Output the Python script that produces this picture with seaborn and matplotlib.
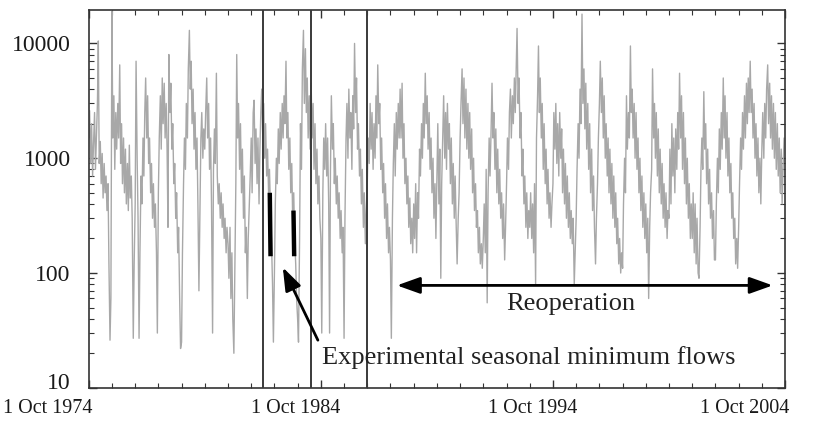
import numpy as np
import pandas as pd
import matplotlib
matplotlib.use("Agg")
import matplotlib.pyplot as plt
import matplotlib.transforms as mtransforms
from matplotlib.ticker import FixedLocator, NullFormatter, LogLocator
import seaborn as sns

# Semi-monthly river flow, grouped by water year (Oct-Sep), three decades
flows_1975_1984 = [
    1500, 2600, 900, 2000, 700, 1300, 2500, 800, 1600, 3000, 10500, 900, 1400, 600, 1100, 450, 900, 500, 700, 350, 600, 120, 26, 60,
    19000, 1500, 3500, 800, 2500, 1200, 3000, 1500, 6500, 900, 2000, 600, 1500, 500, 1200, 400, 900, 350, 1300, 450, 700, 300, 27, 120,
    400, 7000, 1000, 300, 27, 150, 700, 400, 1500, 700, 2500, 5000, 1500, 3500, 900, 1500, 500, 900, 300, 600, 250, 400, 150, 30,
    500, 1500, 3500, 1200, 5000, 2000, 4500, 1500, 3000, 1200, 250, 8000, 2500, 4500, 1200, 2000, 600, 900, 300, 500, 150, 250, 60, 22,
    25, 150, 600, 1500, 800, 3000, 1500, 6000, 13000, 4000, 7000, 2000, 4000, 1200, 2500, 800, 1500, 400, 70, 300, 1500, 2500, 1000, 1800,
    1200, 2500, 5000, 1500, 3000, 800, 1500, 400, 30, 800, 1800, 900, 5500, 700, 400, 600, 300, 500, 250, 400, 200, 300, 150, 250,
    180, 90, 250, 60, 150, 40, 20, 100, 600, 8000, 1500, 3000, 800, 2000, 500, 1200, 300, 700, 150, 250, 60, 200, 400, 700,
    1500, 500, 2500, 3200, 900, 1800, 600, 1500, 400, 1200, 2500, 4000, 1500, 3000, 1000, 2000, 700, 1200, 500, 800, 350, 200, 80, 25,
    100, 400, 1000, 600, 1800, 900, 2500, 1200, 3000, 1500, 3500, 2000, 7000, 1500, 2500, 800, 1500, 500, 900, 300, 500, 200, 120, 60,
    40, 25, 200, 2000, 800, 6000, 13000, 3000, 9000, 2500, 5000, 1500, 3500, 1200, 4500, 1500, 3000, 800, 2000, 600, 1200, 400, 700, 300,
]
flows_1985_1994 = [
    200, 30, 500, 1500, 800, 2000, 700, 1500, 400, 30, 800, 3500, 1200, 2000, 600, 1000, 400, 700, 300, 500, 200, 350, 150, 250,
    27, 300, 1500, 3000, 1000, 4000, 1500, 2500, 800, 3500, 1800, 10000, 2500, 5000, 1200, 2000, 700, 1200, 400, 800, 250, 500, 180, 350,
    600, 1500, 900, 3000, 1200, 2500, 800, 2000, 1000, 3500, 1500, 6500, 2000, 3000, 800, 1500, 500, 900, 300, 600, 200, 400, 150, 250,
    130, 27, 300, 900, 2000, 700, 2500, 1200, 3000, 1500, 4000, 1500, 4500, 1000, 2000, 600, 1000, 400, 700, 250, 450, 180, 300, 150,
    400, 200, 600, 150, 500, 300, 1200, 700, 2000, 1000, 3000, 1500, 5500, 2000, 3500, 1200, 2500, 800, 1500, 500, 1000, 300, 600, 200,
    700, 2000, 400, 1200, 90, 600, 1500, 3500, 1000, 2500, 800, 3000, 1200, 2000, 600, 1500, 400, 900, 300, 700, 250, 120, 300, 500,
    1500, 3000, 6000, 2000, 5000, 1500, 4000, 1200, 3000, 1000, 2500, 800, 1800, 500, 1000, 350, 600, 250, 350, 150, 250, 120, 180, 110,
    200, 400, 150, 800, 55, 500, 1500, 700, 1800, 4500, 1500, 2500, 800, 1800, 500, 1200, 400, 800, 300, 500, 200, 400, 130, 250,
    600, 1500, 800, 2500, 4000, 1500, 3500, 2000, 5000, 2500, 6000, 13500, 3000, 5000, 1500, 2500, 700, 1200, 400, 700, 250, 500, 200, 350,
    250, 500, 200, 400, 150, 600, 80, 1500, 3500, 9500, 2500, 5000, 1500, 3000, 800, 2000, 600, 1200, 400, 800, 300, 500, 250, 400,
]
flows_1995_2004 = [
    600, 2500, 1200, 3000, 900, 2000, 700, 2500, 1000, 1800, 500, 1200, 400, 900, 300, 700, 250, 500, 200, 350, 180, 300, 80, 150,
    300, 800, 2000, 1000, 4000, 2000, 18000, 3000, 6000, 1800, 4500, 1200, 3000, 800, 2000, 500, 1200, 350, 700, 250, 120, 300, 600, 1500,
    3000, 7000, 2500, 5000, 1500, 3500, 1000, 2000, 700, 1500, 500, 1200, 400, 900, 300, 700, 250, 500, 180, 300, 120, 200, 100, 150,
    110, 400, 1000, 500, 3500, 1200, 2500, 1500, 9500, 2500, 4000, 1500, 3000, 1000, 2500, 800, 1500, 500, 1000, 350, 700, 250, 500, 200,
    400, 150, 300, 60, 250, 500, 800, 6000, 1500, 3000, 1000, 2500, 700, 1800, 500, 1200, 400, 900, 300, 600, 250, 500, 200, 350,
    300, 1200, 400, 2000, 700, 1500, 500, 1800, 800, 2500, 1200, 5500, 1500, 3500, 800, 2500, 600, 1500, 400, 1000, 300, 600, 200, 400,
    200, 500, 150, 400, 120, 300, 100, 90, 250, 800, 1500, 800, 3800, 1200, 2000, 600, 1200, 400, 800, 300, 500, 200, 350, 130,
    130, 400, 1000, 500, 1800, 800, 2500, 1200, 5000, 1500, 3500, 1000, 2500, 700, 1500, 500, 900, 300, 500, 200, 300, 120, 200, 110,
    250, 600, 1500, 800, 2500, 1200, 3500, 1500, 4500, 2000, 5000, 2500, 7000, 2500, 4000, 1500, 3000, 1000, 2000, 700, 1500, 500, 1000, 400,
    1200, 2500, 1000, 3000, 1500, 4000, 6500, 2000, 4500, 1500, 3500, 1200, 3000, 1000, 2500, 800, 2000, 700, 1500, 500, 1200, 400, 900, 1500,
]

# Experimental seasonal minimum flow releases (two summers)
exp_season = ["1982", "1982", "1983", "1983"]
exp_dates = ["1982-07-20", "1982-08-01", "1983-07-28", "1983-08-08"]
exp_flows = [500, 140, 350, 140]

# Operational change dates marked by vertical lines
event_dates = ["1982-04-01", "1984-05-01", "1986-09-20"]

# Axis ticks
tick_dates = ["1974-10-01", "1984-10-01", "1994-10-01", "2004-10-01"]
tick_labels = ["1 Oct 1974", "1 Oct 1984", "1 Oct 1994", "1 Oct 2004"]
y_ticks = [10, 100, 1000, 10000]
y_tick_labels = ["10", "100", "1000", "10000"]

flows = flows_1975_1984 + flows_1985_1994 + flows_1995_2004
dates = pd.date_range("1974-10-01", periods=len(flows), freq="SMS")
df = pd.DataFrame({"date": dates, "flow": flows})
df_exp = pd.DataFrame({"date": pd.to_datetime(exp_dates), "flow": exp_flows, "season": exp_season})

sns.set_style("ticks")
plt.rcParams["font.family"] = ["Liberation Serif", "DejaVu Serif"]

fig = plt.figure(figsize=(8.37, 4.22), dpi=100)
ax = fig.add_axes([0.106, 0.081, 0.832, 0.895])

sns.lineplot(data=df, x="date", y="flow", ax=ax, color="#a8a8a8", lw=1.0,
             estimator=None, legend=False)
sns.lineplot(data=df_exp, x="date", y="flow", units="season", ax=ax,
             color="black", lw=3.2, estimator=None, legend=False,
             solid_capstyle="butt")

for d in event_dates:
    ax.axvline(pd.Timestamp(d), color="#3a3a3a", lw=1.4, zorder=3)

ax.set_yscale("log")
ax.set_ylim(10, 19500)
ax.set_xlim(pd.Timestamp("1974-10-01"), pd.Timestamp("2004-10-01"))

ax.set_yticks(y_ticks)
ax.set_yticklabels(y_tick_labels)
ax.yaxis.set_minor_locator(LogLocator(base=10, subs=np.arange(2, 10)))
ax.yaxis.set_minor_formatter(NullFormatter())

ax.set_xticks(pd.to_datetime(tick_dates))
ax.set_xticklabels(tick_labels)
year_ticks = pd.date_range("1974-10-01", "2004-10-01", freq="12MS")
ax.xaxis.set_minor_locator(FixedLocator(matplotlib.dates.date2num(year_ticks)))

ax.tick_params(axis="both", which="both", direction="in", top=True, right=True,
               color="#333333", labelcolor="#1a1a1a")
ax.tick_params(axis="both", which="major", length=6, width=1.0)
ax.tick_params(axis="both", which="minor", length=3.5, width=0.8)
ax.tick_params(axis="y", which="major", pad=13, labelsize=17)
ax.tick_params(axis="x", which="major", pad=8, labelsize=14.5)

# Shift the date labels to the left of their ticks
shifts_px = [-41, -25, -20, -40]
for lbl, s in zip(ax.get_xticklabels(), shifts_px):
    off = mtransforms.ScaledTranslation(s / 100.0, 0, fig.dpi_scale_trans)
    lbl.set_transform(lbl.get_transform() + off)

# Lift the bottom value label clear of the date labels
bottom_lbl = ax.get_yticklabels()[0]
bottom_lbl.set_transform(bottom_lbl.get_transform() +
                         mtransforms.ScaledTranslation(0, 0.07, fig.dpi_scale_trans))

for sp in ax.spines.values():
    sp.set_color("#333333")
    sp.set_linewidth(1.2)

ax.set_xlabel("")
ax.set_ylabel("")

# Reoperation period double arrow
ax.annotate("", xy=(pd.Timestamp("2004-03-20"), 78), xytext=(pd.Timestamp("1988-01-10"), 78),
            arrowprops=dict(arrowstyle="<|-|>,head_length=1.4,head_width=0.5",
                            color="black", lw=2.0, shrinkA=0, shrinkB=0))
ax.text(pd.Timestamp("1995-07-01"), 54, "Reoperation", ha="center", va="center",
        fontsize=19, color="#222222")

# Pointer to the experimental releases
ax.annotate("", xy=(pd.Timestamp("1983-02-10"), 112), xytext=(pd.Timestamp("1984-08-15"), 26),
            arrowprops=dict(arrowstyle="-|>,head_length=1.4,head_width=0.5",
                            color="black", lw=2.0, shrinkA=0, shrinkB=0))
ax.text(pd.Timestamp("1984-10-15"), 18.3, "Experimental seasonal minimum flows",
        ha="left", va="center", fontsize=19, color="#222222")

fig.savefig("out.png", dpi=100, facecolor="white")
